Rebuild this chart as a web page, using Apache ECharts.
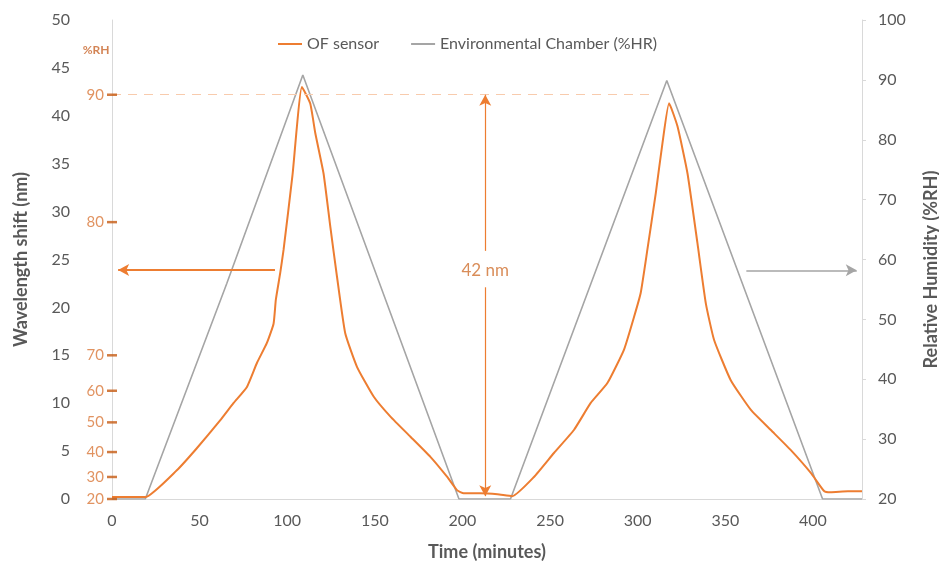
<!DOCTYPE html>
<html>
<head>
<meta charset="utf-8">
<script src="https://cdn.jsdelivr.net/npm/echarts@6/dist/echarts.min.js"></script>
<style>
  html, body { margin: 0; padding: 0; background: #fff; }
  #main { width: 939px; height: 563px; }
</style>
</head>
<body>
<div id="main"></div>
<script>
// OF sensor: time (min) / wavelength shift (nm)
var sensorTime = [0, 10, 19, 37, 48.4, 61.7, 69.3, 77, 82.7, 88.4, 92.2, 93.5, 96, 97.9, 103, 108.4,
  113.1, 116, 120.7, 124.6, 128.4, 133.1, 139.8, 149.3, 158.9, 170.3, 181.7, 191.3, 197, 200.7, 210, 220, 228.4,
  240.8, 252.2, 263.6, 273.1, 282.7, 292.2, 297.9, 301.7, 305.5, 310.3, 314.1, 317.9,
  322.7, 328.4, 334.1, 338.9, 343.6, 353.1, 364.6, 376, 387.4, 398.9, 406.5, 410, 420, 428];
var sensorShift = [0.2, 0.2, 0.2, 3.0, 5.3, 8.2, 10.0, 11.7, 14.2, 16.3, 18.3, 20.8, 23.6, 26.0, 33.8, 43.0,
  41.3, 38.2, 34.0, 28.4, 23.2, 17.3, 13.8, 10.7, 8.6, 6.5, 4.4, 2.3, 0.9, 0.6, 0.6, 0.5, 0.3,
  2.3, 4.8, 7.2, 10.0, 12.1, 15.6, 19.0, 21.5, 26.0, 31.9, 37.1, 41.3,
  38.9, 34.0, 26.7, 20.4, 16.6, 12.4, 9.3, 7.2, 5.1, 2.7, 0.8, 0.7, 0.8, 0.8];

// environmental chamber: time (min) / relative humidity (%RH)
var chamberTime = [0, 19, 65.5, 108.9, 198, 227.4, 316.6, 405.5, 428];
var chamberRH = [20, 20, 56, 90.8, 20, 20, 89.9, 20, 20];

// %RH calibration marks on the wavelength axis
var rhMarks = [20, 30, 40, 50, 60, 70, 80, 90];
var rhShift = [0, 2.3, 4.9, 8.0, 11.3, 15.0, 28.9, 42.2];

var ORANGE = '#ED7D31', GRAY = '#A5A5A5', TXT = '#595959';
var FONT = 'Lato';

var chart = echarts.init(document.getElementById('main'));

// invisible anchor so a scatter label can be drawn
var hidden = { color: 'rgba(0,0,0,0)' };

var option = {
  animation: false,
  textStyle: { fontFamily: FONT },
  grid: { left: 112, right: 77, top: 20, bottom: 64, outerBoundsMode: 'none', containLabel: false },
  legend: {
    data: ['OF sensor', 'Environmental Chamber (%HR)'],
    left: 273, top: 31,
    icon: 'rect', itemWidth: 24, itemHeight: 2, itemGap: 32, itemStyle: { borderWidth: 0 },
    textStyle: { color: TXT, fontSize: 16, fontFamily: FONT }
  },
  xAxis: {
    type: 'value', min: 0, max: 428, interval: 50,
    name: 'Time (minutes)', nameLocation: 'middle', nameGap: 44,
    nameTextStyle: { color: TXT, fontSize: 18, fontWeight: 'bold', fontFamily: FONT },
    axisLine: { lineStyle: { color: '#D9D9D9' } },
    axisTick: { show: false },
    splitLine: { show: false },
    axisLabel: { color: TXT, fontSize: 16, margin: 14, showMaxLabel: false }
  },
  yAxis: [{
    type: 'value', min: 0, max: 50, interval: 5,
    name: 'Wavelength shift (nm)', nameLocation: 'middle', nameGap: 82,
    nameTextStyle: { color: TXT, fontSize: 18, fontWeight: 'bold', fontFamily: FONT },
    axisLine: { show: true, lineStyle: { color: '#D9D9D9' } },
    axisTick: { show: false },
    splitLine: { show: false },
    axisLabel: { color: TXT, fontSize: 16, margin: 42 }
  }, {
    type: 'value', min: 20, max: 100, interval: 10,
    name: 'Relative Humidity (%RH)', nameLocation: 'middle', nameGap: 60,
    nameTextStyle: { color: TXT, fontSize: 18, fontWeight: 'bold', fontFamily: FONT, padding: [0, 20, 0, 0] },
    axisLine: { show: true, lineStyle: { color: '#D9D9D9' } },
    axisTick: { show: true, length: 4, lineStyle: { color: '#D9D9D9' } },
    splitLine: { show: false },
    axisLabel: { color: TXT, fontSize: 16, margin: 16 }
  }],
  series: [{
    name: 'OF sensor', type: 'line', yAxisIndex: 0,
    symbol: 'none', z: 4, smooth: 0.15,
    lineStyle: { color: ORANGE, width: 2 },
    itemStyle: { color: ORANGE },
    data: sensorTime.map(function (t, i) { return [t, sensorShift[i]]; }),
    markLine: {
      silent: true, symbolSize: [9, 11],
      label: { show: false },
      data: [
        // 90 %RH level
        [{ coord: [0, rhShift[7]], symbol: 'none', lineStyle: { color: '#F8CBAD', type: [9, 7], width: 1.2 } },
         { coord: [309, rhShift[7]], symbol: 'none' }],
        // arrow toward the left axis
        [{ coord: [93, 23.9], symbol: 'none', lineStyle: { color: ORANGE, type: 'solid', width: 2 } },
         { coord: [3.5, 23.9], symbol: 'arrow' }],
        // 42 nm span, top half
        [{ coord: [213, 25.9], symbol: 'none', lineStyle: { color: ORANGE, type: 'solid', width: 1.2 } },
         { coord: [213, rhShift[7]], symbol: 'arrow' }],
        // bottom half
        [{ coord: [213, 22.1], symbol: 'none', lineStyle: { color: ORANGE, type: 'solid', width: 1.2 } },
         { coord: [213, 0.3], symbol: 'arrow' }]
      ]
    }
  }, {
    name: 'Environmental Chamber (%HR)', type: 'line', yAxisIndex: 1,
    symbol: 'none', z: 3,
    lineStyle: { color: GRAY, width: 1.6 },
    itemStyle: { color: GRAY },
    data: chamberTime.map(function (t, i) { return [t, chamberRH[i]]; }),
    markLine: {
      silent: true, symbolSize: [9, 11],
      label: { show: false },
      data: [
        [{ coord: [362, 58.2], symbol: 'none', lineStyle: { color: GRAY, type: 'solid', width: 1.6 } },
         { coord: [425, 58.2], symbol: 'arrow' }]
      ]
    }
  }, {
    // %RH ticks drawn on the nm axis
    name: 'rh', type: 'scatter', yAxisIndex: 0, silent: true, z: 6,
    symbol: 'rect', symbolSize: [10, 2.5],
    itemStyle: { color: '#C55A11' },
    label: {
      show: true, position: 'left', distance: 3,
      color: '#D9783A', fontSize: 15, fontFamily: FONT,
      formatter: function (p) { return rhMarks[p.dataIndex]; }
    },
    data: rhMarks.map(function (m, i) { return [0, rhShift[i]]; })
  }, {
    // text labels
    name: 'notes', type: 'scatter', yAxisIndex: 0, silent: true, z: 7,
    symbol: 'circle', symbolSize: 1, itemStyle: hidden,
    data: [
      { value: [0, 46.9], label: { show: true, position: 'left', distance: 2, formatter: '%RH',
        color: '#C8652B', fontSize: 12, fontWeight: 'bold', fontFamily: FONT } },
      { value: [213, 23.9], label: { show: true, position: 'inside', formatter: '42 nm',
        color: '#D0712F', fontSize: 17, fontFamily: FONT } }
    ]
  }]
};

chart.setOption(option);
</script>
</body>
</html>
